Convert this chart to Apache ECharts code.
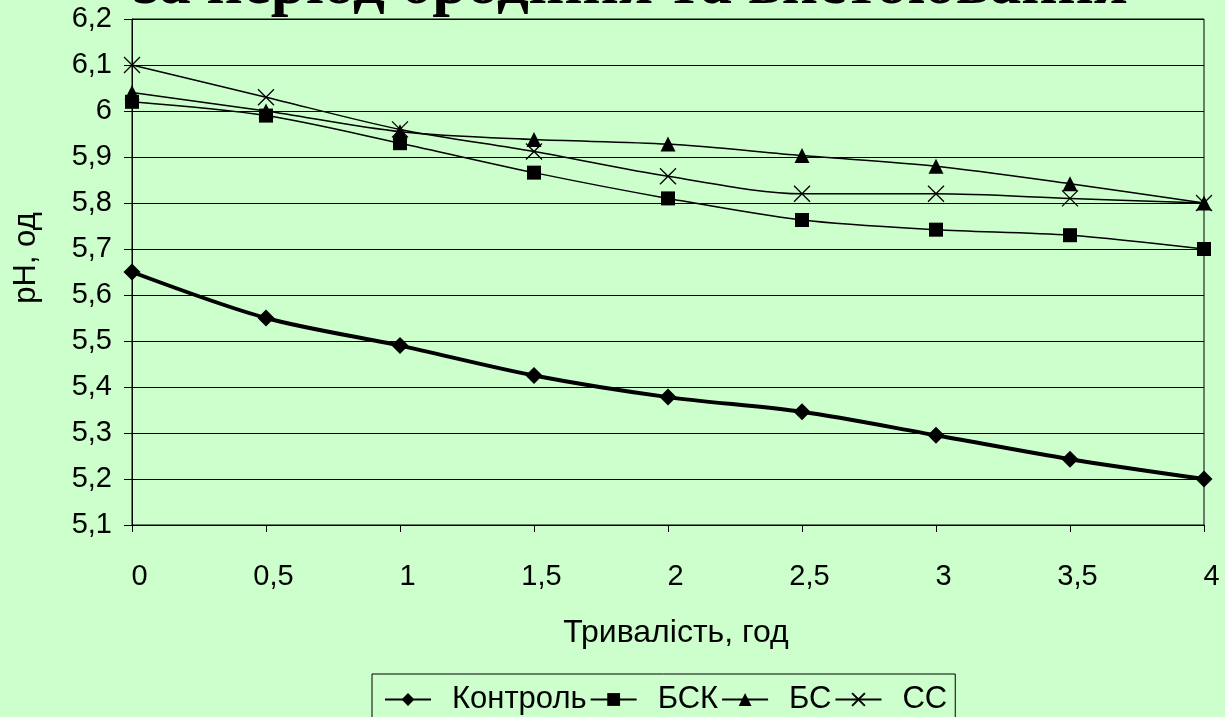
<!DOCTYPE html>
<html>
<head>
<meta charset="utf-8">
<script src="https://cdn.jsdelivr.net/npm/echarts@6/dist/echarts.min.js"></script>
<style>
html,body{margin:0;padding:0;background:#CCFFCC;}
#chart{width:1225px;height:717px;}
</style>
</head>
<body>
<div id="chart"></div>
<script>
const titleText = 'за період бродіння та вистоювання';
const xValues = [0, 0.5, 1, 1.5, 2, 2.5, 3, 3.5, 4];
const seriesNames = ['Контроль', 'БСК', 'БС', 'СС'];
const kontrol = [5.65, 5.55, 5.49, 5.425, 5.378, 5.346, 5.295, 5.243, 5.2];
const bsk = [6.02, 5.99, 5.93, 5.866, 5.81, 5.763, 5.742, 5.73, 5.70];
const bs = [6.04, 6.0, 5.955, 5.938, 5.928, 5.903, 5.88, 5.842, 5.80];
const ss = [6.1, 6.03, 5.96, 5.912, 5.858, 5.82, 5.82, 5.81, 5.80];
const xAxisName = 'Тривалість, год';
const yAxisName = 'pH, од';

const font = 'Liberation Sans, Arial, sans-serif';
const fmt = v => String(Number(v.toFixed(1))).replace('.', ',');
const pairs = arr => xValues.map((x, i) => [x, arr[i]]);
const crossPath = 'path://M0,0L10,10M10,0L0,10';

const chart = echarts.init(document.getElementById('chart'), null, {renderer: 'canvas'});
chart.setOption({
  backgroundColor: '#CCFFCC',
  animation: false,
  grid: {left: 132, right: 21, top: 19, bottom: 192, show: true, borderColor: '#000', borderWidth: 1, backgroundColor: 'transparent'},
  graphic: [{
    type: 'text', x: 631, y: -45, z: 10,
    style: {text: titleText, font: 'bold 63px "Liberation Serif", "Times New Roman", serif', fill: '#000',
            textAlign: 'center', textVerticalAlign: 'top'}
  }],
  xAxis: {
    type: 'value', min: 0, max: 4, interval: 0.5,
    name: xAxisName, nameLocation: 'middle', nameGap: 92,
    nameTextStyle: {fontFamily: font, fontSize: 32, color: '#000', padding: [0, 0, 0, 16]},
    axisLine: {show: true, lineStyle: {color: '#000', width: 1}},
    axisTick: {show: true, length: 7, lineStyle: {color: '#000'}},
    axisLabel: {fontFamily: font, fontSize: 29, color: '#000', margin: 37, formatter: fmt, padding: [0, 0, 0, 15]},
    splitLine: {show: false}
  },
  yAxis: {
    type: 'value', min: 5.1, max: 6.2, interval: 0.1,
    name: yAxisName, nameLocation: 'middle', nameGap: 90,
    nameTextStyle: {fontFamily: font, fontSize: 31, color: '#000', padding: [0, 0, 0, 28]},
    axisLine: {show: true, lineStyle: {color: '#000', width: 1}},
    axisTick: {show: true, length: 8, lineStyle: {color: '#000'}},
    axisLabel: {fontFamily: font, fontSize: 29, color: '#000', margin: 20, formatter: fmt, padding: [8, 0, 0, 0]},
    splitLine: {show: true, lineStyle: {color: '#000', width: 1}}
  },
  legend: {
    left: 372, top: 674,
    data: seriesNames,
    borderColor: '#000', borderWidth: 1, padding: [10, 8, 14, 12],
    itemGap: 3, itemWidth: 46, itemHeight: 16,
    textStyle: {fontFamily: font, fontSize: 31, color: '#000', padding: [0, 0, 0, 16]}
  },
  series: [
    {name: seriesNames[0], type: 'line', smooth: 0.3, data: pairs(kontrol),
     symbol: 'diamond', symbolSize: 17,
     lineStyle: {color: '#000', width: 4}, itemStyle: {color: '#000'}},
    {name: seriesNames[1], type: 'line', smooth: 0.3, data: pairs(bsk),
     symbol: 'rect', symbolSize: 14,
     lineStyle: {color: '#000', width: 1.5}, itemStyle: {color: '#000'}},
    {name: seriesNames[2], type: 'line', smooth: 0.3, data: pairs(bs),
     symbol: 'triangle', symbolSize: 15,
     lineStyle: {color: '#000', width: 1.5}, itemStyle: {color: '#000'}},
    {name: seriesNames[3], type: 'line', smooth: 0.3, data: pairs(ss),
     symbol: crossPath, symbolSize: 16,
     lineStyle: {color: '#000', width: 1.5}, itemStyle: {color: 'none', borderColor: '#000', borderWidth: 1.3}}
  ]
});
</script>
</body>
</html>
